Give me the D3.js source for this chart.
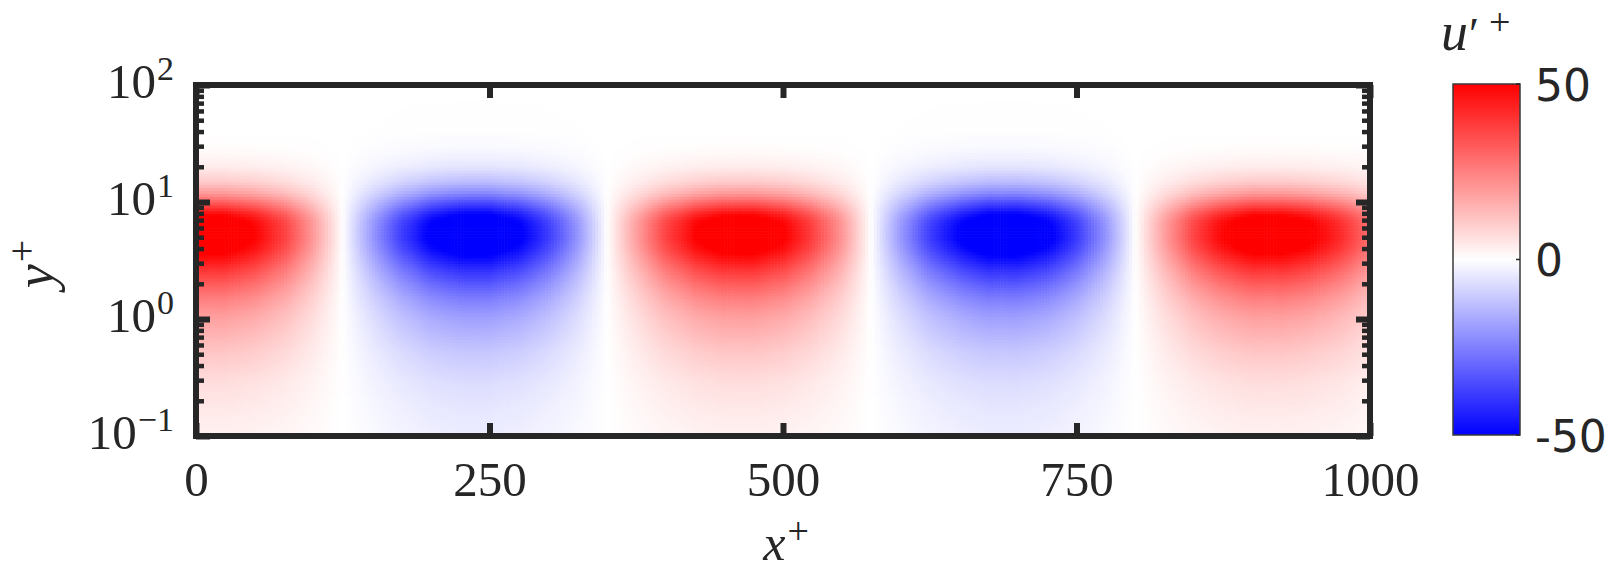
<!DOCTYPE html>
<html><head><meta charset="utf-8">
<script src="https://cdn.jsdelivr.net/npm/d3@7"></script>
<style>html,body{margin:0;padding:0;background:#fff;} svg{display:block;}</style>
</head><body>
<svg id="chart" width="1610" height="571"></svg>
<script>
// ---------------- data ----------------
const xTickValues = [0, 250, 500, 750, 1000];
const yTickExponents = [-1, 0, 1, 2];
const colorbarTicks = [-50, 0, 50];

// streamwise stations x+ and u'+ read along the core height (y+ ~ 5)
const xStations = [0, 25, 50, 75, 100, 125, 150, 175, 200, 225, 250, 275, 300, 325, 350, 375, 400, 425, 450, 475, 500,
                   525, 550, 575, 600, 625, 650, 675, 700, 725, 750, 775, 800, 825, 850, 875, 900, 925, 950, 975, 1000];
const uCoreAlongX = [57, 57, 50, 38, 20, 0, -20, -38, -52, -59, -59, -52, -39, -21, 0, 19, 37, 50, 57, 57, 51,
                     38, 21, 0, -20, -38, -51, -59, -59, -53, -39, -21, 0, 19, 37, 50, 57, 57, 52, 42, 29];

// wall-normal stations y+ and relative amplitude of positive / negative structures
const yStations   = [0.1, 0.15, 0.2, 0.3, 0.5, 0.7, 1, 1.5, 2, 3, 4, 5, 6, 7, 8, 10, 12, 15, 20, 25, 30, 40, 100];
const ampPositive = [0.05, 0.07, 0.09, 0.12, 0.19, 0.25, 0.32, 0.44, 0.56, 0.77, 0.93, 1.0, 0.99, 0.95, 0.84, 0.56, 0.35, 0.18, 0.07, 0.03, 0.01, 0.0, 0.0];
const ampNegative = [0.06, 0.075, 0.09, 0.12, 0.18, 0.24, 0.31, 0.43, 0.55, 0.76, 0.92, 1.0, 0.99, 0.94, 0.84, 0.6, 0.4, 0.22, 0.09, 0.045, 0.02, 0.005, 0.0];

// ---------------- layout ----------------
const plot = {left: 196, right: 1370, top: 85, bottom: 436};
const cb = {left: 1453, right: 1520, top: 84, bottom: 435};
const ink = "#262626";
const serif = "'Liberation Serif','Times New Roman',serif";
const sans = "'DejaVu Sans',sans-serif";

const svg = d3.select("#chart");
const x = d3.scaleLinear().domain([0, 1000]).range([plot.left, plot.right]);
const y = d3.scaleLog().domain([0.1, 100]).range([plot.bottom, plot.top]);
const color = d3.scaleLinear().domain([-50, 0, 50]).range(["#0000ff", "#ffffff", "#ff0000"]).clamp(true);

const uX = d3.scaleLinear().domain(xStations).range(uCoreAlongX).clamp(true);
const aPos = d3.scaleLog().domain(yStations).range(ampPositive).clamp(true);
const aNeg = d3.scaleLog().domain(yStations).range(ampNegative).clamp(true);

// ---------------- heat map cells ----------------
const dxCell = 2.5, nCols = Math.round(1000 / dxCell);
const dLog = 0.025, nRows = Math.round(3 / dLog);
const cells = [];
for (let i = 0; i < nCols; i++) {
  const x0 = i * dxCell, x1 = x0 + dxCell;
  const ux = uX((x0 + x1) / 2);
  for (let j = 0; j < nRows; j++) {
    const l0 = -1 + j * dLog;
    const yc = Math.pow(10, l0 + dLog / 2);
    const a = ux >= 0 ? aPos(yc) : aNeg(yc);
    cells.push({x0, x1, y0: Math.pow(10, l0), y1: Math.pow(10, l0 + dLog), u: ux * a});
  }
}
svg.append("defs").append("clipPath").attr("id", "plotclip")
  .append("rect").attr("x", plot.left).attr("y", plot.top)
  .attr("width", plot.right - plot.left).attr("height", plot.bottom - plot.top);

svg.append("g").attr("clip-path", "url(#plotclip)")
  .selectAll("rect").data(cells).join("rect")
  .attr("x", d => x(d.x0)).attr("y", d => y(d.y1))
  .attr("width", d => x(d.x1) - x(d.x0) + 0.6)
  .attr("height", d => y(d.y0) - y(d.y1) + 0.6)
  .attr("fill", d => color(d.u));

// ---------------- axes / ticks ----------------
function styleTicks(g, w) {
  g.select(".domain").remove();
  g.selectAll(".tick line").attr("stroke", ink).attr("stroke-width", w);
}
const minorY = [];
for (let e = -1; e < 2; e++) for (let m = 2; m <= 9; m++) minorY.push(m * Math.pow(10, e));
const majorY = yTickExponents.map(e => Math.pow(10, e));

svg.append("g").attr("transform", `translate(0,${plot.bottom})`)
  .call(d3.axisBottom(x).tickValues(xTickValues).tickSize(-13).tickSizeOuter(0).tickPadding(25).tickFormat(d3.format("d")))
  .call(g => styleTicks(g, 6))
  .call(g => g.selectAll("text").attr("fill", ink).style("font-family", serif).style("font-size", "49px"));
svg.append("g").attr("transform", `translate(0,${plot.top})`)
  .call(d3.axisTop(x).tickValues(xTickValues).tickSize(-13).tickSizeOuter(0).tickFormat(""))
  .call(g => styleTicks(g, 6));

[[d3.axisLeft, plot.left], [d3.axisRight, plot.right]].forEach(([ax, px]) => {
  svg.append("g").attr("transform", `translate(${px},0)`)
    .call(ax(y).tickValues(majorY).tickSize(-14).tickSizeOuter(0).tickFormat(""))
    .call(g => styleTicks(g, 6));
  svg.append("g").attr("transform", `translate(${px},0)`)
    .call(ax(y).tickValues(minorY).tickSize(-8).tickSizeOuter(0).tickFormat(""))
    .call(g => styleTicks(g, 4.5));
});

// y tick labels 10^e
const yl = svg.append("g").selectAll("text").data(yTickExponents).join("text")
  .attr("x", 174).attr("y", e => y(Math.pow(10, e)) + 12.5)
  .attr("text-anchor", "end").attr("fill", ink).style("font-family", serif);
yl.append("tspan").style("font-size", "49px").text("10");
yl.append("tspan").style("font-size", "34px").attr("dy", -18).attr("dx", 1)
  .text(e => e < 0 ? "\u2212" + Math.abs(e) : String(e));

// frame
svg.append("rect").attr("x", plot.left).attr("y", plot.top)
  .attr("width", plot.right - plot.left).attr("height", plot.bottom - plot.top)
  .attr("fill", "none").attr("stroke", ink).attr("stroke-width", 6);

// axis titles
const xt = svg.append("text").attr("x", 786).attr("y", 560).attr("text-anchor", "middle")
  .attr("fill", ink).style("font-family", serif);
xt.append("tspan").style("font-size", "50px").style("font-style", "italic").text("x");
xt.append("tspan").style("font-size", "38px").attr("dy", -16).attr("dx", 2).text("+");

const ytt = svg.append("text").attr("transform", "translate(53,264) rotate(-90)").attr("text-anchor", "middle")
  .attr("fill", ink).style("font-family", serif);
ytt.append("tspan").style("font-size", "54px").style("font-style", "italic").text("y");
ytt.append("tspan").style("font-size", "40px").attr("dy", -18).attr("dx", 2).text("+");

// ---------------- colorbar ----------------
const cbScale = d3.scaleLinear().domain([-50, 50]).range([cb.bottom, cb.top]);
const grad = svg.select("defs").append("linearGradient").attr("id", "cbgrad")
  .attr("x1", 0).attr("y1", 1).attr("x2", 0).attr("y2", 0);
grad.selectAll("stop").data(d3.range(-50, 50.01, 5)).join("stop")
  .attr("offset", d => (d + 50) / 100).attr("stop-color", d => color(d));
svg.append("rect").attr("x", cb.left).attr("y", cb.top)
  .attr("width", cb.right - cb.left).attr("height", cb.bottom - cb.top)
  .attr("fill", "url(#cbgrad)").attr("stroke", "#3a3a3a").attr("stroke-width", 1.5);
svg.append("g").selectAll("line").data(colorbarTicks).join("line")
  .attr("x1", cb.right - 4).attr("x2", cb.right).attr("y1", d => cbScale(d)).attr("y2", d => cbScale(d))
  .attr("stroke", ink).attr("stroke-width", 1.5);
svg.append("g").selectAll("text").data(colorbarTicks).join("text")
  .attr("x", 1535).attr("y", d => cbScale(d) + 16.5)
  .attr("fill", ink).style("font-family", sans).style("font-size", "44px")
  .text(d => String(d));

const ct = svg.append("text").attr("x", 1441).attr("y", 50).attr("fill", ink).style("font-family", serif);
ct.append("tspan").style("font-size", "54px").style("font-style", "italic").text("u");
ct.append("tspan").style("font-size", "46px").attr("dx", 1).text("\u2032");
ct.append("tspan").style("font-size", "38px").attr("dx", 10).attr("dy", -15).text("+");
</script>
</body></html>
